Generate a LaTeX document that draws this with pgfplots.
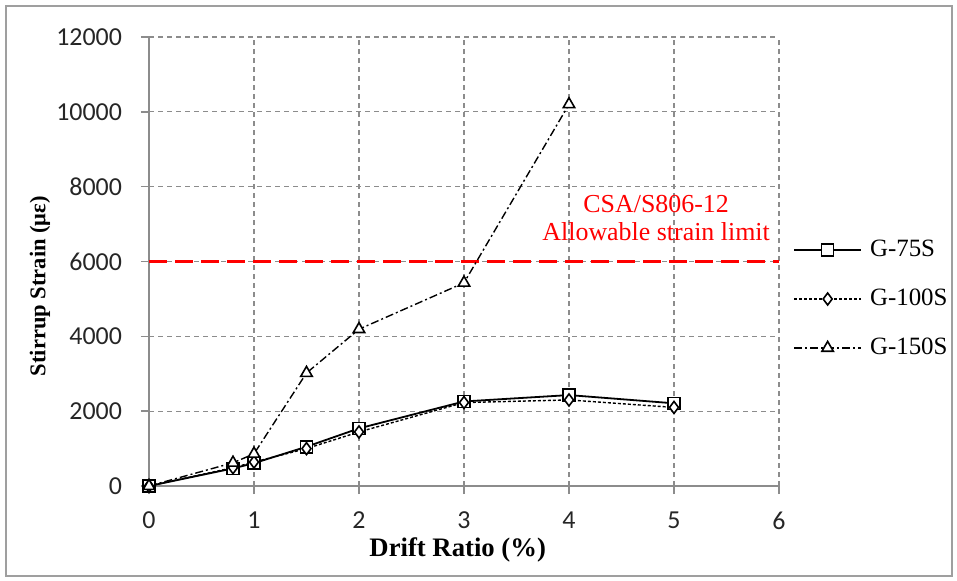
\documentclass[border=0pt]{standalone}
\usepackage{pgfplots}
\pgfplotsset{compat=1.18}
\usepackage{fontspec}
\setmainfont{Liberation Serif}
\newfontfamily\calibri{Carlito}

\definecolor{gridgray}{HTML}{8C8C8C}
\definecolor{axisgray}{HTML}{8C8C8C}

\begin{document}
\begin{tikzpicture}
\path[use as bounding box] (0,0) rectangle (478.5bp,-290.5bp);
\draw[gray!75, line width=1bp] (3bp,-3bp) rectangle (476bp,-288bp);

\begin{axis}[
  at={(74.5bp,-18.5bp)}, anchor=north west,
  scale only axis,
  width=315bp, height=224.5bp,
  xmin=0, xmax=6, ymin=0, ymax=12000,
  xtick={0,1,...,6},
  ytick={0,2000,...,12000},
  scaled y ticks=false,
  axis x line*=bottom, axis y line*=left,
  axis line style={axisgray, line width=0.8bp},
  tick style={axisgray, line width=0.8bp},
  tick align=outside,
  major tick length=4bp,
  grid=major,
  major grid style={gridgray, line width=0.6bp, dash pattern=on 2.5bp off 2bp},
  ticklabel style={font=\calibri\fontsize{13}{13}\selectfont, text=black!85},
  yticklabel style={xshift=-6bp},
  xticklabel style={yshift=-5.5bp},
  /pgf/number format/assume math mode=true,
  /pgf/number format/1000 sep={},
  xlabel={\textbf{Drift Ratio (\%)}},
  ylabel={\textbf{Stirrup Strain (με)}},
  xlabel style={font=\fontsize{13.4}{14}\selectfont, at={(axis description cs:0.49,-0.1425)}, anchor=center},
  ylabel style={font=\fontsize{11.3}{12}\selectfont, at={(axis description cs:-0.173,0.445)}, anchor=center},
  clip=false,
  legend style={
    draw=none, fill=none,
    at={(axis description cs:1.0125,0.4165)}, anchor=west,
    font=\fontsize{12.5}{13}\selectfont,
    nodes={inner sep=0pt, text height=9bp, text depth=2.5bp},
    row sep=13bp, column sep=4bp,
    cells={anchor=west},
  },
  legend image code/.code={%
    \draw[mark repeat=2, mark phase=2] plot coordinates {(0bp,0bp) (16.75bp,0bp) (33.5bp,0bp)};},
]

% allowable strain limit
\addplot[red, line width=1.6bp, dash pattern=on 9bp off 4bp, forget plot]
  coordinates {(0,6000) (6,6000)};
\node[red, align=center, font=\fontsize{13}{14}\selectfont]
  at (axis cs:4.83,7160) {CSA/S806-12\\Allowable strain limit};

\addplot[black, line width=0.9bp, mark=square*, mark size=3bp,
  mark options={solid, fill=white, line width=0.8bp}]
  coordinates {(0,0) (0.8,470) (1,610) (1.5,1050) (2,1540) (3,2260) (4,2430) (5,2210)};
\addlegendentry{G-75S}

\addplot[black, line width=0.7bp, dash pattern=on 1.5bp off 1bp, mark=diamond*, mark size=3bp,
  mark options={solid, fill=white, line width=0.8bp}]
  coordinates {(0,0) (0.8,490) (1,640) (1.5,1000) (2,1445) (3,2230) (4,2300) (5,2100)};
\addlegendentry{G-100S}

\addplot[black, line width=0.7bp, dash pattern=on 4bp off 1.5bp on 1bp off 1.5bp, mark=triangle*, mark size=3.3bp,
  mark options={solid, fill=white, line width=0.8bp}]
  coordinates {(0,0) (0.8,620) (1,860) (1.5,3020) (2,4190) (3,5430) (4,10200)};
\addlegendentry{G-150S}

\end{axis}
\end{tikzpicture}
\end{document}
